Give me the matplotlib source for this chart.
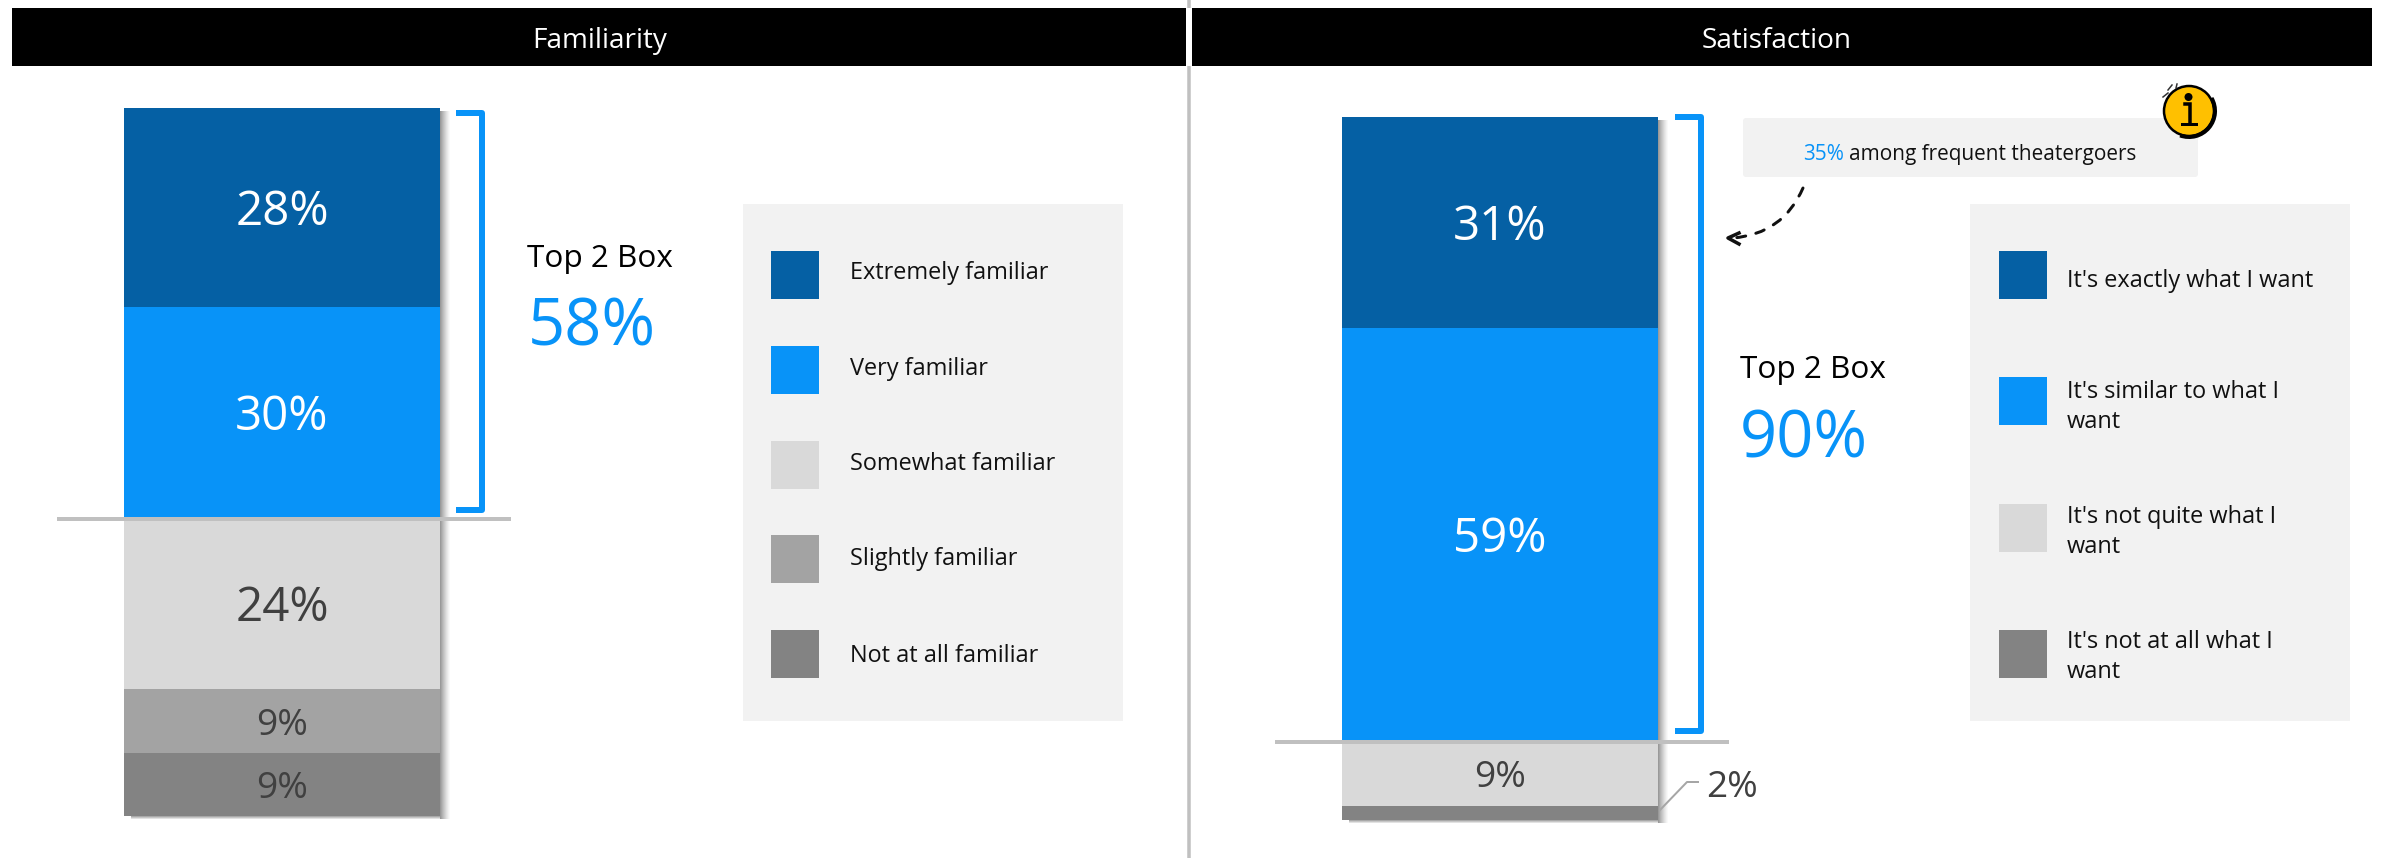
import matplotlib
matplotlib.use('Agg')
import matplotlib.pyplot as plt
from matplotlib.patches import Rectangle, FancyBboxPatch, FancyArrowPatch, Ellipse, Arc

plt.rcParams['font.family'] = ['Open Sans', 'DejaVu Sans']

# bar heights, top segment first
familiarity_values = [28.1, 29.8, 24.2, 9.0, 8.9]
familiarity_labels = ['28%', '30%', '24%', '9%', '9%']
familiarity_legend = ['Extremely familiar', 'Very familiar', 'Somewhat familiar',
                      'Slightly familiar', 'Not at all familiar']
satisfaction_values = [30.0, 58.7, 9.3, 2.0]
satisfaction_labels = ['31%', '59%', '9%', '']
satisfaction_legend = ["It's exactly what I want", "It's similar to what I\nwant",
                       "It's not quite what I\nwant", "It's not at all what I\nwant"]

DARK_BLUE = '#0560A4'
BLUE = '#0893F8'
LIGHT = '#D9D9D9'
MID = '#A3A3A3'
DARK = '#838383'
TEXT = '#404040'
familiarity_colors = [DARK_BLUE, BLUE, LIGHT, MID, DARK]
satisfaction_colors = [DARK_BLUE, BLUE, LIGHT, DARK]
familiarity_text = ['white', 'white', TEXT, TEXT, TEXT]
satisfaction_text = ['white', 'white', TEXT, TEXT]

W, H = 2381, 858
fig = plt.figure(figsize=(W / 100, H / 100), dpi=100, facecolor='white')


def px(size):
    return size * 0.72


# back and front layers work in picture pixels
back = fig.add_axes([0, 0, 1, 1], zorder=0)
front = fig.add_axes([0, 0, 1, 1], zorder=2)
for a in (back, front):
    a.set_xlim(0, W)
    a.set_ylim(H, 0)
    a.axis('off')
front.patch.set_alpha(0)


def stacked_bar(left, right, top, bottom, values, labels, colors, text_colors, sizes):
    ax = fig.add_axes([left / W, 1 - bottom / H, (right - left) / W, (bottom - top) / H], zorder=1)
    ax.set_xlim(-0.5, 0.5)
    ax.set_ylim(0, sum(values))
    ax.axis('off')
    start = sum(values)
    for v, lab, c, tc, s in zip(values, labels, colors, text_colors, sizes):
        start -= v
        ax.bar(0, v, width=1, bottom=start, color=c, linewidth=0)
        ax.annotate(lab, (0, start + v / 2), xytext=(0, -px(5)), textcoords='offset points',
                    color=tc, fontsize=px(s), ha='center', va='center')
    # soft shadow on the right and under the bar
    for i in range(10):
        al = 0.6 * (1 - i / 10) ** 1.3
        back.add_patch(Rectangle((right + i, top + 3), 1, bottom - top, color='#555555', alpha=al, lw=0))
    for i in range(3):
        back.add_patch(Rectangle((left + 7, bottom + i), right - left - 7, 1, color='#555555',
                                 alpha=0.5 * (1 - i / 3), lw=0))


def legend_box(x0, x1, swatch_x, text_x, tops, text_ys, names, colors):
    back.add_patch(Rectangle((x0, 204), x1 - x0, 517, color='#F2F2F2', lw=0))
    for t, ty, name, c in zip(tops, text_ys, names, colors):
        back.add_patch(Rectangle((swatch_x, t), 48, 48, color=c, lw=0))
        front.text(text_x, ty, name, fontsize=px(23.5), color='#111111', va='center', ha='left',
                   linespacing=1.38)


def bracket(x0, x1, y0, y1):
    front.plot([x0, x1, x1, x0], [y0, y0, y1, y1], color=BLUE, lw=px(6),
               solid_joinstyle='round', solid_capstyle='butt')


# headers and the divider
back.plot([1188.5, 1188.5], [0, H], color='#C0C0C0', lw=px(3.5))
back.add_patch(Rectangle((1186, 8), 6, 58, color='white', lw=0, zorder=3))
back.add_patch(Rectangle((12, 8), 1174, 58, color='black', lw=0, zorder=3))
back.add_patch(Rectangle((1192, 8), 1180, 58, color='black', lw=0, zorder=3))
front.text(600, 41, 'Familiarity', color='white', fontsize=px(28), ha='center', va='center')
front.text(1777, 41, 'Satisfaction', color='white', fontsize=px(28), ha='center', va='center')

stacked_bar(124, 440, 108, 816, familiarity_values, familiarity_labels, familiarity_colors,
            familiarity_text, [47.5, 47.5, 47.5, 37, 37])
stacked_bar(1342, 1658, 117, 820, satisfaction_values, satisfaction_labels, satisfaction_colors,
            satisfaction_text, [47.5, 47.5, 37, 37])

# top 2 box cut lines
front.plot([57, 511], [519, 519], color='#C0C0C0', lw=px(4), solid_capstyle='butt')
front.plot([1275, 1729], [741.5, 741.5], color='#C0C0C0', lw=px(4), solid_capstyle='butt')

bracket(456, 482, 113, 510)
bracket(1675, 1701, 117, 731)

front.text(527, 259, 'Top 2 Box', color='black', fontsize=px(31.5), va='center')
front.text(528, 329, '58%', color=BLUE, fontsize=px(65), va='center')
front.text(1740, 370, 'Top 2 Box', color='black', fontsize=px(31.5), va='center')
front.text(1740, 441, '90%', color=BLUE, fontsize=px(65), va='center')

legend_box(743, 1123, 771, 850, [251, 346, 441, 535, 630], [273, 369, 464, 559, 656],
           familiarity_legend, familiarity_colors)
legend_box(1970, 2350, 1999, 2067, [251, 377, 504, 630], [281, 407, 532, 657],
           satisfaction_legend, satisfaction_colors)

# small 2% callout
front.plot([1660, 1687, 1698], [810, 782, 782], color='#A6A6A6', lw=px(2))
front.text(1706, 788, '2%', color=TEXT, fontsize=px(37), va='center')

# frequent theatergoers note
back.add_patch(FancyBboxPatch((1745, 120), 451, 55, boxstyle='round,pad=2,rounding_size=3',
                              fc='#F2F2F2', ec='none'))
t1 = front.text(1803, 160, '35%', color=BLUE, fontsize=px(20.8), va='baseline')
fig.canvas.draw()
end = t1.get_window_extent(fig.canvas.get_renderer()).x1
front.text(end + 5, 160, 'among frequent theatergoers', color='#111111', fontsize=px(20.8), va='baseline')

front.add_patch(FancyArrowPatch((1803, 188), (1733, 238), arrowstyle='-',
                                connectionstyle='arc3,rad=-0.3', linestyle=(0, (3, 3.5)),
                                lw=px(3), color='#111111', shrinkA=0, shrinkB=0))
front.plot([1739, 1728, 1739], [233, 238, 244], color='#111111', lw=px(3.5))

# info badge, the i is drawn as a shape like the icon in the slide
front.add_patch(Ellipse((2189, 111), 50, 50, fc='#FFC000', ec='black', lw=px(2.5), zorder=4))
front.add_patch(Arc((2189, 111), 52, 52, theta1=-30, theta2=110, ec='black', lw=px(4), zorder=4))
front.add_patch(Ellipse((2188.5, 97), 8, 8, fc='black', ec='none', zorder=5))
front.plot([2185, 2190, 2190], [104, 104, 123], color='black', lw=px(3.5), zorder=5, solid_joinstyle='miter')
front.plot([2182, 2196], [124, 124], color='black', lw=px(3), zorder=5)
for xs, ys in [([2163, 2168], [97, 93]), ([2168, 2172], [90, 85]), ([2176, 2177], [88, 84])]:
    front.plot(xs, ys, color='#333333', lw=px(1.5), zorder=4)

fig.savefig('out.png', dpi=100, facecolor='white')
